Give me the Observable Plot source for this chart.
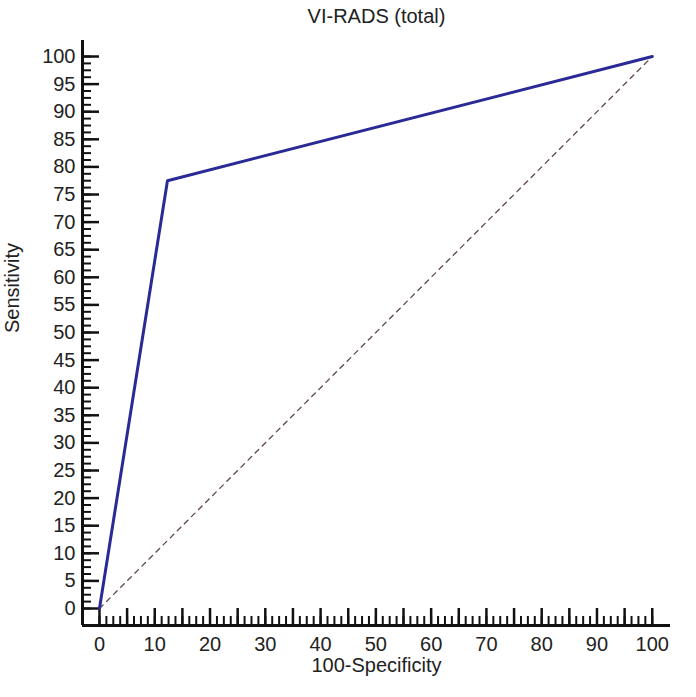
<!DOCTYPE html>
<html>
<head>
<meta charset="utf-8">
<script src="https://cdn.jsdelivr.net/npm/d3@7"></script>
<script src="https://cdn.jsdelivr.net/npm/@observablehq/plot@0.6"></script>
<style>
  html, body { margin: 0; padding: 0; background: #fff; }
  #chart svg { display: block; }
</style>
</head>
<body>
<div id="chart"></div>
<script>
// ROC curve points (100-Specificity, Sensitivity)
const rocX = [0, 12.3, 100];
const rocY = [0, 77.5, 100];
// Reference diagonal
const diagX = [0, 100];
const diagY = [0, 100];
// Tick values
const xLabelTicks = [0, 10, 20, 30, 40, 50, 60, 70, 80, 90, 100];
const xMajorTicks = [0, 5, 10, 15, 20, 25, 30, 35, 40, 45, 50, 55, 60, 65, 70, 75, 80, 85, 90, 95, 100];
const yLabelTicks = [0, 5, 10, 15, 20, 25, 30, 35, 40, 45, 50, 55, 60, 65, 70, 75, 80, 85, 90, 95, 100];
const yMajorTicks = yLabelTicks;
const minorStep = 1.25;
const xMinorTicks = d3.range(0, 100 + 1e-9, minorStep);
const yMinorTicks = d3.range(0, 100 + 1e-9, minorStep);
const titleText = "VI-RADS (total)";
const xLabelText = "100-Specificity";
const yLabelText = "Sensitivity";

const roc = rocX.map((x, i) => ({x, y: rocY[i]}));
const diag = diagX.map((x, i) => ({x, y: diagY[i]}));

const xDomain = [-3.07, 103.3];
const yDomain = [-3.08, 102.9];
const font = "'Liberation Sans', Arial, sans-serif";
const textColor = "#222";

const chart = Plot.plot({
  width: 696,
  height: 697,
  marginLeft: 82,
  marginRight: 26,
  marginTop: 40,
  marginBottom: 72,
  style: {fontFamily: font, background: "#fff"},
  x: {domain: xDomain},
  y: {domain: yDomain},
  marks: [
    // axis lines
    Plot.ruleY([yDomain[0]], {stroke: "#111", strokeWidth: 3}),
    Plot.ruleX([xDomain[0]], {stroke: "#111", strokeWidth: 3}),
    // x ticks (inward)
    Plot.axisX({ticks: xMinorTicks, tickSize: -9, tickFormat: () => "", label: null, stroke: "#111", strokeWidth: 2}),
    Plot.axisX({ticks: xMajorTicks, tickSize: -17, tickFormat: () => "", label: null, stroke: "#111", strokeWidth: 2.5}),
    Plot.axisX({ticks: xLabelTicks, tickSize: 0, tickPadding: 11, label: null, fontSize: 20, fill: textColor}),
    // y ticks (inward)
    Plot.axisY({ticks: yMinorTicks, tickSize: -9, tickFormat: () => "", label: null, stroke: "#111", strokeWidth: 2}),
    Plot.axisY({ticks: yMajorTicks, tickSize: -17, tickFormat: () => "", label: null, stroke: "#111", strokeWidth: 2.5}),
    Plot.axisY({ticks: yLabelTicks, tickSize: 0, tickPadding: 7, label: null, fontSize: 20, fill: textColor}),
    // data
    Plot.line(diag, {x: "x", y: "y", stroke: "#5e4848", strokeWidth: 1.3, strokeDasharray: "5,5"}),
    Plot.line(roc, {x: "x", y: "y", stroke: "#2a2a96", strokeWidth: 3}),
    // texts
    Plot.text([titleText], {text: d => d, frameAnchor: "top", lineAnchor: "bottom", dy: -18, fontSize: 20, fill: textColor}),
    Plot.text([yLabelText], {text: d => d, frameAnchor: "left", rotate: -90, dx: -70, fontSize: 20, fill: textColor}),
    Plot.text([xLabelText], {text: d => d, frameAnchor: "bottom", dy: 46, fontSize: 20, fill: textColor})
  ]
});
document.getElementById("chart").appendChild(chart);
</script>
</body>
</html>
